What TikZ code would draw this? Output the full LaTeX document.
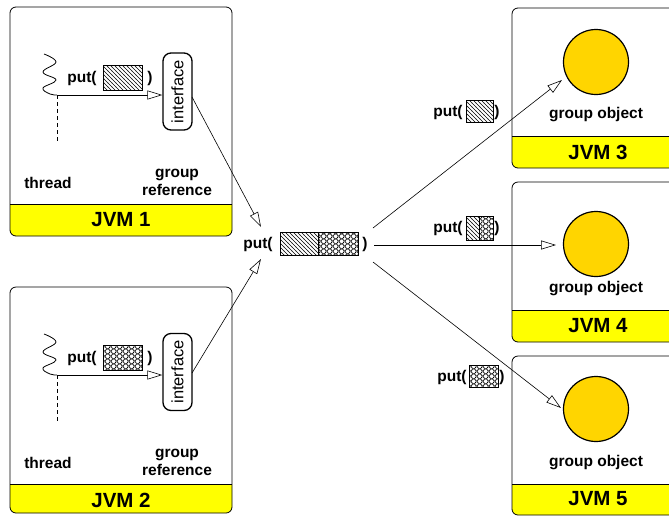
\documentclass[tikz,border=0pt]{standalone}
\usepackage{fontspec}
\setmainfont{Liberation Sans}
\usetikzlibrary{arrows.meta,patterns}
\definecolor{objfill}{HTML}{FFD500}
\definecolor{bandyellow}{HTML}{FFFF00}
\pgfdeclarepatternformonly{nwlines}{\pgfqpoint{-1pt}{-1pt}}{\pgfqpoint{5pt}{5pt}}{\pgfqpoint{4pt}{4pt}}{%
  \pgfsetlinewidth{0.5pt}%
  \pgfpathmoveto{\pgfqpoint{-0.1pt}{4.1pt}}%
  \pgfpathlineto{\pgfqpoint{4.1pt}{-0.1pt}}%
  \pgfusepath{stroke}}
\pgfdeclarepatternformonly{scales}{\pgfqpoint{0pt}{0pt}}{\pgfqpoint{6pt}{5pt}}{\pgfqpoint{6pt}{5pt}}{%
  \pgfsetlinewidth{0.4pt}%
  \pgfpathcircle{\pgfqpoint{0pt}{0pt}}{2.3pt}%
  \pgfpathcircle{\pgfqpoint{6pt}{0pt}}{2.3pt}%
  \pgfpathcircle{\pgfqpoint{3pt}{2.5pt}}{2.3pt}%
  \pgfpathcircle{\pgfqpoint{0pt}{5pt}}{2.3pt}%
  \pgfpathcircle{\pgfqpoint{6pt}{5pt}}{2.3pt}%
  \pgfusepath{stroke}}
\newcommand\jvmbox[5]{%
  \fill[bandyellow] (#1,#5) {[rounded corners=6pt] -- (#1,#4) -- (#3,#4)} -- (#3,#5) -- cycle;
  \draw[line width=0.8pt] (#1,#5) -- (#3,#5);
  \draw[jvm] (#1,#2) rectangle (#3,#4);}
\begin{document}
\begin{tikzpicture}[x=1pt,y=-1pt,
  jvm/.style={draw, rounded corners=6pt, line width=0.8pt},
  lbl/.style={font=\bfseries\fontsize{15.5}{18}\selectfont, align=center, inner sep=0},
  jvmlbl/.style={font=\bfseries\fontsize{20.5}{22}\selectfont, inner sep=0},
  arr/.style={-{Triangle[open,length=15pt,width=9pt,fill=white]}, line width=0.6pt},
  iface/.style={draw, rounded corners=8pt, line width=1.3pt, minimum width=29pt, minimum height=77pt, inner sep=0, font=\fontsize{16.5}{18}\selectfont},
  obj/.style={circle, draw, line width=1.2pt, fill=objfill, minimum size=65pt, inner sep=0},
  hatch/.style={pattern=nwlines},
  mesh/.style={pattern=scales},
  boxline/.style={draw, line width=0.6pt},
  squig/.style={line width=0.8pt},
  life/.style={dashed, dash pattern=on 4pt off 3pt, line width=0.6pt}]
\useasboundingbox (0,0) rectangle (669,515);
% ---- boxes
\jvmbox{10}{7}{232}{236}{204}
\jvmbox{10}{287}{232}{513}{484}
\jvmbox{512}{8}{680}{168}{136}
\jvmbox{512}{182}{680}{342}{310}
\jvmbox{512}{356}{680}{515}{484}
\node[jvmlbl] (l1) at (121,220) {JVM 1};
\node[jvmlbl] (l2) at (121,500) {JVM 2};
\node[jvmlbl] (l3) at (598,152) {JVM 3};
\node[jvmlbl] (l4) at (598,326) {JVM 4};
\node[jvmlbl] (l5) at (598,499) {JVM 5};
% ---- JVM 1 content
\draw[squig] plot[smooth,tension=0.7] coordinates {(44,54) (56,62) (43,72) (56,80) (43,88) (50,94) (57,95)};
\coordinate (th1) at (57,95);
\draw[life] (th1) -- (57,142);
\node[iface] (i1) at (177.5,91.5) {\rotatebox{90}{interface}};
\draw[arr] (th1) -- (th1 -| i1.west);
\node[lbl] (p1) at (82,78) {put(};
\path[hatch] (103,65) rectangle (142,90);
\draw[boxline] (103,65) rectangle (142,90);
\node[lbl] (q1) at (150,78) {)};
\node[lbl] (t1) at (48,183) {thread};
\node[lbl] (g1) at (177,182) {group\\reference};
% ---- JVM 2 content
\draw[squig] plot[smooth,tension=0.7] coordinates {(44,334) (56,342) (43,352) (56,360) (43,368) (50,374) (57,375)};
\coordinate (th2) at (57,375);
\draw[life] (th2) -- (57,422);
\node[iface] (i2) at (177.5,372) {\rotatebox{90}{interface}};
\draw[arr] (th2) -- (th2 -| i2.west);
\node[lbl] (p2) at (82,358) {put(};
\path[mesh] (103,345) rectangle (142,370);
\draw[boxline] (103,345) rectangle (142,370);
\node[lbl] (q2) at (150,358) {)};
\node[lbl] (t2) at (48,463) {thread};
\node[lbl] (g2) at (177,462) {group\\reference};
% ---- centre put
\node[lbl] (pc) at (258,244) {put(};
\path[hatch] (280,232) rectangle (318,255);
\path[mesh] (318,232) rectangle (358,255);
\draw[boxline] (280,232) rectangle (358,255) (318,232) -- (318,255);
\node[lbl] (qc) at (365,244) {)};
\coordinate (o1) at (192,97);
\coordinate (o2) at (192,373);
\coordinate (e1) at (261,227);
\coordinate (e2) at (261,259);
\draw[arr] (o1) -- (e1);
\draw[arr] (o2) -- (e2);
% ---- group objects
\node[obj] (c3) at (596,62) {};
\node[obj] (c4) at (596,244) {};
\node[obj] (c5) at (596,409) {};
\node[lbl] (go3) at (596,115) {group object};
\node[lbl] (go4) at (596,289) {group object};
\node[lbl] (go5) at (596,463) {group object};
\coordinate (s3) at (373,228);
\coordinate (s4) at (374,245);
\coordinate (s5) at (373,262);
\coordinate (a3) at (562,80);
\coordinate (a4) at (556,245);
\coordinate (a5) at (561,408);
\draw[arr] (s3) -- (a3);
\draw[arr] (s4) -- (a4);
\draw[arr] (s5) -- (a5);
% ---- small puts
\node[lbl] (p3) at (448,112) {put(};
\path[hatch] (466,100) rectangle (493,122);
\draw[boxline] (466,100) rectangle (493,122);
\node[lbl] (q3) at (497,112) {)};
\node[lbl] (p4) at (448,228) {put(};
\path[hatch] (466,216) rectangle (479,240);
\path[mesh] (479,216) rectangle (493,240);
\draw[boxline] (466,216) rectangle (493,240) (479,216) -- (479,240);
\node[lbl] (q4) at (497,228) {)};
\node[lbl] (p5) at (452,377) {put(};
\path[mesh] (469,365) rectangle (498,387);
\draw[boxline] (469,365) rectangle (498,387);
\node[lbl] (q5) at (502,377) {)};
\end{tikzpicture}
\end{document}
